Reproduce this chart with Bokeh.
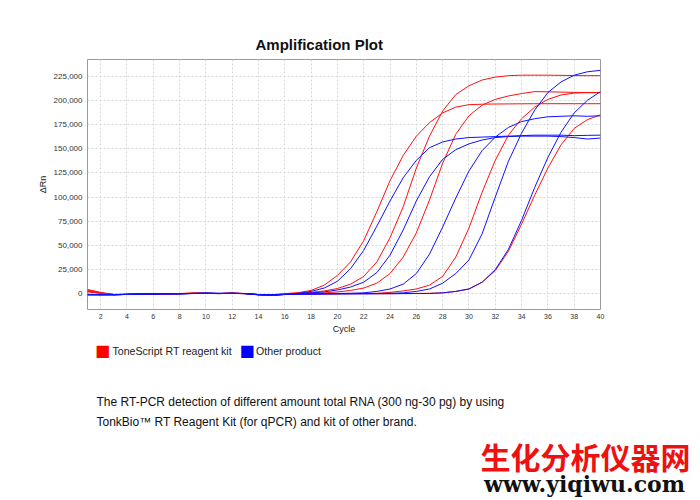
from bokeh.plotting import figure
from bokeh.models import Range1d, FixedTicker, NumeralTickFormatter, Label
from bokeh.embed import file_html
from bokeh.resources import INLINE

# ---------------- data (values in thousands of ΔRn) ----------------
cycles = list(range(1, 41))

tone_1 = [4.5, 1.5, -0.6, -0.4, -0.2, 0.1, 0.0, 0.3, 0.7, 0.5, 0.2, 0.7, 0.3, -0.8, -0.9, 0.2,
          1.2, 3.5, 9, 19, 33, 55, 85, 117, 143, 163, 177, 187, 193, 195.5,
          196, 196.2, 196.3, 196.4, 196.5, 196.5, 196.5, 196.5, 196.5, 196.5]
tone_2 = [3.0, 0.8, -0.8, -0.5, -0.3, 0.0, 0.1, 0.2, 0.6, 0.6, 0.3, 0.6, 0.2, -1.0, -1.1, -0.2,
          0.6, 1.5, 3, 5.5, 10, 18, 33, 58, 90, 130, 163, 189, 206, 215,
          221, 224, 225.5, 226, 226, 226, 225.8, 225.6, 225.5, 225.5]
tone_3 = [2.5, 0.5, -1.0, -0.6, -0.3, -0.1, 0.0, 0.1, 0.5, 0.4, 0.3, 0.5, 0.1, -1.1, -1.2, -0.4,
          0.0, 0.4, 1, 2, 3.5, 6, 11, 21, 38, 63, 97, 135, 165, 184,
          195, 201, 204.5, 207, 209, 208.8, 208.5, 208.2, 208, 208]
tone_4 = [3.8, 1.0, -0.7, -0.5, -0.2, 0.0, 0.0, 0.3, 0.6, 0.5, 0.2, 0.6, 0.3, -0.9, -1.2, -0.5,
          -0.2, 0.0, 0.1, 0.2, 0.3, 0.4, 0.5, 1.5, 3, 5, 9, 18, 38, 68,
          105, 138, 164, 181, 193, 201, 205.5, 207.5, 208, 208]
tone_5 = [2.0, 0.6, -0.9, -0.6, -0.3, 0.0, 0.1, 0.2, 0.5, 0.5, 0.3, 0.6, 0.2, -1.0, -1.3, -0.6,
          -0.3, -0.2, -0.1, 0.0, 0.0, 0.1, 0.1, 0.2, 0.3, 0.4, 0.6, 1, 2.5, 5,
          12, 24, 44, 72, 102, 130, 154, 171, 180, 185]

other_1 = [-0.5, -0.8, -0.9, -0.6, -0.3, -0.2, 0.0, 0.0, 0.4, 0.6, 0.4, 0.5, 0.3, -0.8, -1.3, -0.6,
           0.5, 2.5, 6, 13, 26, 45, 70, 96, 120, 138, 151, 157, 160, 161.5,
           162, 162.5, 163, 163.5, 164, 164, 164, 163.5, 163.8, 164]
other_2 = [-1.0, -1.0, -0.8, -0.5, -0.3, -0.1, 0.0, 0.1, 0.4, 0.5, 0.4, 0.4, 0.2, -0.9, -1.2, -0.7,
           0.2, 1, 2, 4, 7, 12, 22, 40, 66, 96, 121, 139, 149, 155,
           159, 161.5, 162.5, 163, 163, 163, 162.5, 161.5, 160, 161]
other_3 = [-0.8, -1.1, -1.0, -0.6, -0.2, -0.2, 0.0, 0.0, 0.3, 0.6, 0.5, 0.5, 0.3, -0.7, -1.3, -0.6,
           -0.2, 0.0, 0.2, 0.4, 0.6, 1, 2.5, 5, 10, 21, 41, 69, 99, 127,
           148, 162, 172, 178, 181, 183, 183.5, 184, 183.5, 184]
other_4 = [-1.2, -0.9, -0.9, -0.7, -0.3, -0.2, 0.0, 0.0, 0.4, 0.5, 0.4, 0.5, 0.2, -0.8, -1.4, -0.7,
           -0.3, -0.1, 0.0, 0.1, 0.2, 0.2, 0.3, 0.5, 1, 2.5, 5, 11, 21, 35,
           62, 100, 137, 166, 190, 208, 219, 226, 229.5, 231]
other_5 = [-0.6, -1.0, -1.0, -0.6, -0.3, -0.1, 0.0, 0.1, 0.3, 0.6, 0.4, 0.5, 0.3, -0.8, -1.3, -0.7,
           -0.4, -0.3, -0.2, -0.1, 0.0, 0.0, 0.1, 0.1, 0.2, 0.3, 0.3, 1, 2.5, 5,
           12, 25, 46, 76, 110, 141, 167, 187, 200, 209]

tone_series = [tone_1, tone_2, tone_3, tone_4, tone_5]
other_series = [other_1, other_2, other_3, other_4, other_5]

y_ticks = [0, 25000, 50000, 75000, 100000, 125000, 150000, 175000, 200000, 225000]
x_ticks = list(range(2, 41, 2))

title_text = "Amplification Plot"
legend_names = ["ToneScript RT reagent kit", "Other product"]
legend_colors = ["#ff0000", "#0000ff"]
caption_lines = ["The RT-PCR detection of different amount total RNA (300 ng-30 pg) by using",
                 "TonkBio\u2122 RT Reagent Kit (for qPCR) and kit of other brand."]
mark_cn = "生化分析仪器网"
mark_url = "www.yiqiwu.com"

# ---------------- figure ----------------
X0, X1 = 1, 40
Y0, Y1 = -16200, 242200
FL, FT, FW, FH = 87, 59, 513, 250

p = figure(width=700, height=500, output_backend="svg", toolbar_location=None,
           x_range=Range1d(X0, X1), y_range=Range1d(Y0, Y1),
           min_border_left=FL, min_border_right=700 - FL - FW,
           min_border_top=FT, min_border_bottom=500 - FT - FH,
           background_fill_color="white", border_fill_color="white")
p.outline_line_color = "#9a9a9a"
p.outline_line_width = 1

p.title.text = title_text
p.title.align = "left"
p.title.offset = 168
p.title.standoff = 13
p.title.text_font = "Liberation Sans"
p.title.text_font_size = "15px"
p.title.text_font_style = "bold"
p.title.text_color = "#111111"

for g in (p.xgrid, p.ygrid):
    g.grid_line_color = "#d6d6d6"
    g.grid_line_dash = "2 2"
    g.grid_line_width = 1
p.xgrid.ticker = FixedTicker(ticks=x_ticks)
p.ygrid.ticker = FixedTicker(ticks=y_ticks)

p.xaxis.ticker = FixedTicker(ticks=x_ticks)
p.yaxis.ticker = FixedTicker(ticks=y_ticks)
p.yaxis.formatter = NumeralTickFormatter(format="0,0")
for ax in (p.xaxis[0], p.yaxis[0]):
    ax.axis_line_color = None
    ax.major_tick_line_color = None
    ax.minor_tick_line_color = None
    ax.major_tick_out = 0
    ax.major_tick_in = 0
    ax.major_label_text_font = "Liberation Sans"
    ax.major_label_text_color = "#333333"
    ax.axis_label_text_font = "Liberation Sans"
    ax.axis_label_text_font_style = "normal"
    ax.axis_label_text_color = "#222222"
p.yaxis.major_label_text_font_size = "8px"
p.yaxis.major_label_standoff = 5
p.yaxis.axis_label = "\u0394Rn"
p.yaxis.axis_label_text_font_size = "9px"
p.yaxis.axis_label_standoff = 3
p.xaxis.major_label_text_font_size = "7px"
p.xaxis.major_label_standoff = 4
p.xaxis.axis_label = "Cycle"
p.xaxis.axis_label_text_font_size = "9px"
p.xaxis.axis_label_standoff = 2

for s in tone_series:
    p.line(cycles, [v * 1000 for v in s], line_color="#ff1010", line_width=1)
for s in other_series:
    p.line(cycles, [v * 1000 for v in s], line_color="#1010ff", line_width=1)


# page pixel -> data coordinate (used only to place the texts below the plot)
def X(px):
    return X0 + (px - FL) * (X1 - X0) / FW


def Y(py):
    return Y1 - (py - FT) * (Y1 - Y0) / FH


def txt(px, py, text, size, font="Liberation Sans", color="#111111", align="left",
        baseline="middle", style="normal"):
    p.add_layout(Label(x=X(px), y=Y(py), text=text, text_align=align, text_baseline=baseline,
                       text_font=font, text_font_size=size, text_font_style=style,
                       text_color=color), "below")


# legend: colour squares + names
txt(102, 350, "\u25a0", "16px", font="DejaVu Sans", color=legend_colors[0], align="center")
txt(112, 350, legend_names[0], "10.6px", color="#222222")
txt(246.5, 350, "\u25a0", "16px", font="DejaVu Sans", color=legend_colors[1], align="center")
txt(255.6, 350, legend_names[1], "10.6px", color="#222222")

# caption
txt(96, 401, caption_lines[0], "12px", baseline="alphabetic")
txt(96, 421, caption_lines[1], "12px", baseline="alphabetic")

# site mark
txt(585, 455, mark_cn, "30px", font="Noto Sans CJK SC", color="#ee1111", align="center",
    style="bold")
txt(584, 483, mark_url, "22px", font="DejaVu Serif", color="#111111", align="center",
    style="bold")

open("out.html", "w").write(file_html(p, INLINE))
